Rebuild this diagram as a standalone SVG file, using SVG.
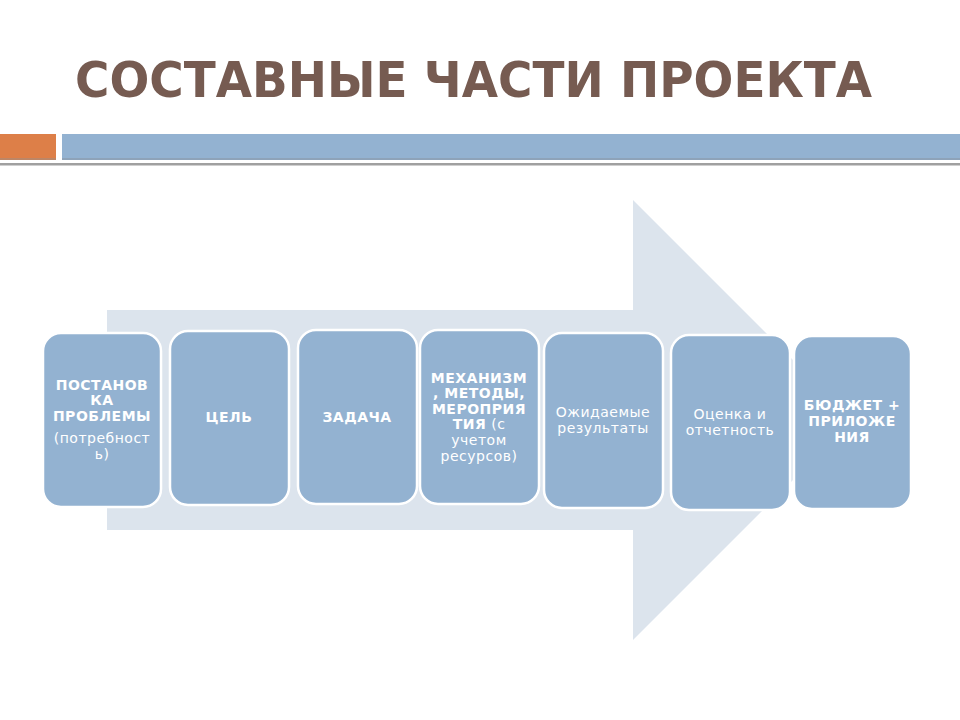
<svg xmlns="http://www.w3.org/2000/svg" width="960" height="720" viewBox="0 0 960 720">
<style>
.box{fill:#93b2d1;stroke:#ffffff;stroke-width:2.5}
.t{font-family:"DejaVu Sans",sans-serif;font-size:14px;letter-spacing:0.5px;fill:#ffffff;text-anchor:middle}
.b{font-weight:bold}
.title{font-family:"DejaVu Sans",sans-serif;font-weight:bold;font-size:50px;fill:#765b51}
</style>
<rect width="960" height="720" fill="#ffffff"/>
<text class="title" x="75" y="97" textLength="797" lengthAdjust="spacingAndGlyphs">СОСТАВНЫЕ ЧАСТИ ПРОЕКТА</text>
<rect x="0" y="134" width="56" height="26" fill="#dd7f48"/>
<rect x="62" y="134" width="898" height="26" fill="#93b2d1"/>
<rect x="0" y="158" width="56" height="2" fill="#a88a7c" opacity="0.6"/>
<rect x="62" y="158" width="898" height="2" fill="#8a9aa8" opacity="0.6"/>
<rect x="0" y="163" width="960" height="2.5" fill="#a0a0a0"/>
<polygon points="107,310 633,310 633,200 853,420 633,640 633,530 107,530" fill="#dce4ed"/>
<g id="n1"><rect class="box" x="43" y="333" width="118" height="174" rx="18"/>
<text class="t b" x="102" y="390">ПОСТАНОВ</text><text class="t b" x="102" y="405">КА</text><text class="t b" x="102" y="421">ПРОБЛЕМЫ</text>
<text class="t" x="102" y="443">(потребност</text><text class="t" x="102" y="459">ь)</text></g>
<g id="n2"><rect class="box" x="170" y="331" width="119" height="174" rx="18"/>
<text class="t b" x="229" y="422">ЦЕЛЬ</text></g>
<g id="n3"><rect class="box" x="298" y="330" width="119" height="174" rx="18"/>
<text class="t b" x="357" y="422">ЗАДАЧА</text></g>
<g id="n4"><rect class="box" x="420" y="330" width="119" height="174" rx="18"/>
<text class="t b" x="479" y="383">МЕХАНИЗМ</text><text class="t b" x="479" y="398">, МЕТОДЫ,</text><text class="t b" x="479" y="414">МЕРОПРИЯ</text>
<text class="t" x="479" y="429"><tspan class="b">ТИЯ</tspan> (с</text><text class="t" x="479" y="445">учетом</text><text class="t" x="479" y="461">ресурсов)</text></g>
<g id="n5"><rect class="box" x="544" y="333" width="119" height="175" rx="18"/>
<text class="t" x="603" y="417">Ожидаемые</text><text class="t" x="603" y="433">результаты</text></g>
<g id="n6"><rect class="box" x="671" y="335" width="119" height="175" rx="18"/>
<text class="t" x="730" y="419">Оценка и</text><text class="t" x="730" y="435">отчетность</text></g>
<g id="n7"><rect class="box" x="794" y="336" width="117" height="173" rx="18"/>
<text class="t b" x="852" y="410">БЮДЖЕТ +</text><text class="t b" x="852" y="426">ПРИЛОЖЕ</text><text class="t b" x="852" y="442">НИЯ</text></g>
<g id="connectors"></g>
</svg>
